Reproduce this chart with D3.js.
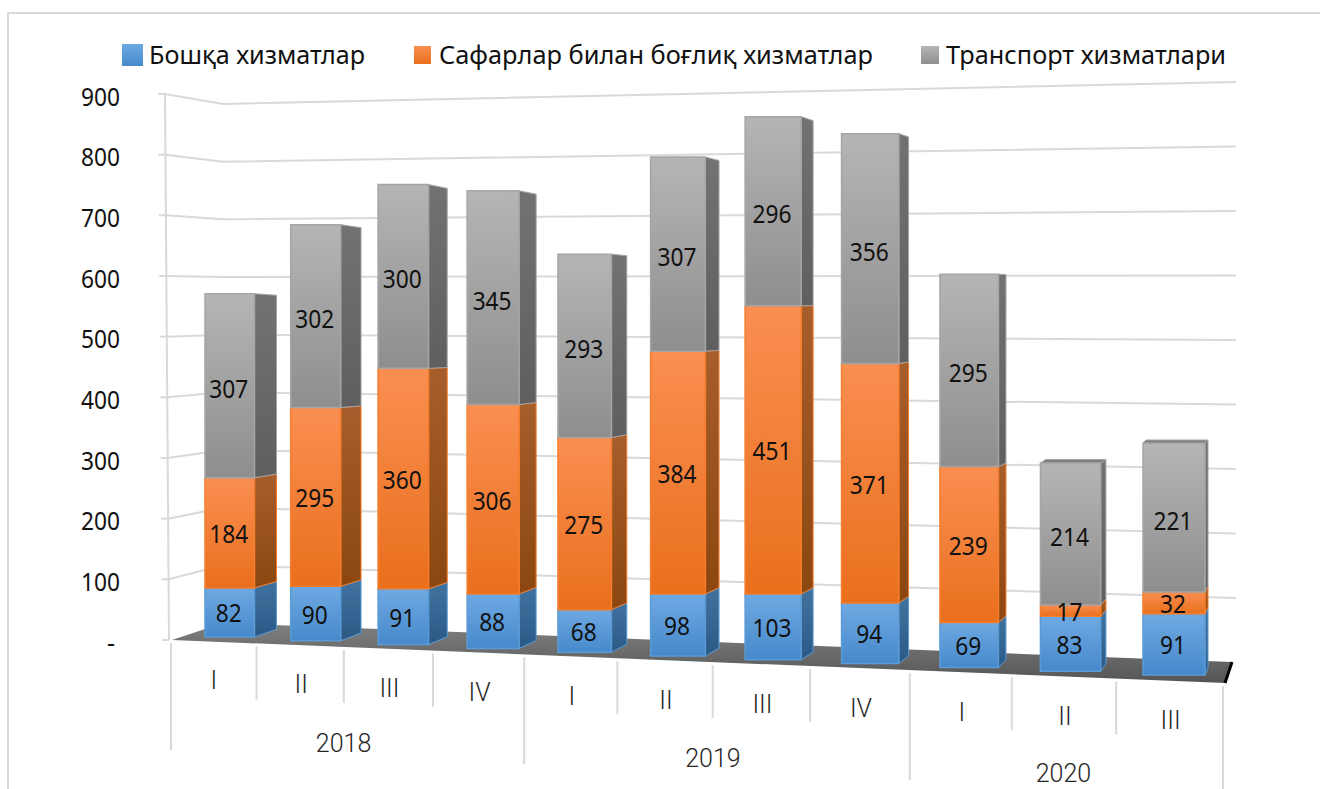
<!DOCTYPE html>
<html><head><meta charset="utf-8">
<script src="https://cdn.jsdelivr.net/npm/d3@7/dist/d3.min.js"></script>
<style>html,body{margin:0;padding:0;background:#fff;overflow:hidden}svg{display:block}text{font-family:"Noto Sans",sans-serif}</style>
</head><body><svg id="c" width="1320" height="789"></svg>
<script>
// ---- data ----
const quarters = ["I","II","III","IV","I","II","III","IV","I","II","III"];
const years = ["2018","2019","2020"];
const yearSpans = [4,4,3];
const other = [82,90,91,88,68,98,103,94,69,83,91];
const travel = [184,295,360,306,275,384,451,371,239,17,32];
const transport = [307,302,300,345,293,307,296,356,295,214,221];
const seriesNames = ["Бошқа хизматлар","Сафарлар билан боғлиқ хизматлар","Транспорт хизматлари"];
const valueTicks = [0,100,200,300,400,500,600,700,800,900];

// ---- palette ----
const faceTop = ["#6fa9e2","#fa8f52","#b5b5b5"], faceBot = ["#4689cb","#e96f1c","#8e8e8e"];
const sideTop = ["#42739f","#a65e2c","#727272"], sideBot = ["#2a5986","#8c4710","#5f5f5f"];
const edge = ["#5b9bd5","#f57d2c","#a5a5a5"];

const svg = d3.select("#c");
const defs = svg.append("defs");
function grad(id,a,b){const g=defs.append("linearGradient").attr("id",id).attr("x1",0).attr("y1",0).attr("x2",0).attr("y2",1);
  g.append("stop").attr("offset",0).attr("stop-color",a);g.append("stop").attr("offset",1).attr("stop-color",b);}
faceTop.forEach((c,i)=>{grad("f"+i,c,faceBot[i]);grad("s"+i,sideTop[i],sideBot[i]);});
grad("floor","#808080","#555555");

// ---- perspective ----
const n = quarters.length;
const persp = k => c => c/(1-k*c);
const pBar = persp(0.0095), pTick = persp(0.0105);
const xBar = d3.scaleLinear().domain([0,pBar(10)]).range([205,1143]);
const xTick = d3.scaleLinear().domain([0,pTick(11)]).range([171,1223]);
const barW = d3.scaleLinear().domain([0,2,4,6,8,10]).range([49.5,50.5,53.5,56,58.5,62]);
const barD = d3.scaleLinear().domain([0,6,10]).range([22,12,3]);
const floorY = d3.scaleLinear().domain([0,10]).range([637,675]);
const unit = d3.scaleLinear().domain([0,2,6,8,10]).range([0.599,0.6125,0.639,0.652,0.674]);
const eyeY = d3.scaleLinear().domain([0,10]).range([350,270]);
const depthT = d3.scaleLinear().domain([0,10]).range([0.027,0.018]);
const backY = (c,y) => y + depthT(c)*(eyeY(c)-y);

// squeezed numerals: the reference face is tall and narrow
const digitW = 13;
const numeral = (sel) => sel.attr("font-size",25).attr("lengthAdjust","spacingAndGlyphs")
  .each(function(){ if(this.textContent.length>1) d3.select(this).attr("textLength",this.textContent.length*digitW); });

// ---- frame ----
const frame = "#d9d9d9";
svg.append("path").attr("d",d3.line()([[8,789],[8,13],[1320,13]])).attr("fill","none").attr("stroke",frame).attr("stroke-width",2);

// ---- walls & gridlines ----
const yFront = d3.scaleLinear().domain([0,900]).range([640,94]);
const yCorner = d3.scaleLinear().domain([0,900]).range([623,104]);
const yRight = d3.scaleLinear().domain([0,900]).range([662.5,82]);
const wallX = d3.scaleLinear().domain([0,900]).range([169,165]);
const g = svg.append("g").attr("fill","none").attr("stroke",frame).attr("stroke-width",2);
valueTicks.forEach(v=>{
  if(v>0) g.append("path").attr("d",d3.line()([[wallX(v),yFront(v)],[223,yCorner(v)],[1236,yRight(v)]]));
  g.append("line").attr("x1",wallX(v)-7).attr("x2",wallX(v)).attr("y1",yFront(v)).attr("y2",yFront(v));
});
g.append("line").attr("x1",wallX(0)).attr("x2",wallX(900)).attr("y1",yFront(0)).attr("y2",yFront(900));

// value axis labels through d3.axisLeft
const yAxis = d3.axisLeft(yFront).tickValues(valueTicks).tickSize(0).tickPadding(0)
  .tickFormat(v=>v===0?"-":String(v));
const ax = svg.append("g").attr("transform","translate(120,3)").call(yAxis);
ax.select(".domain").remove();
ax.selectAll("text").attr("fill","#111").style("font-family",'"Noto Sans",sans-serif')
  .attr("dx",v=>v===0?-5:0).call(numeral);

// ---- floor ----
svg.append("path").attr("d",d3.line()([[172,640],[223,623],[1232,662],[1225,683]])+"Z").attr("fill","url(#floor)");
svg.append("line").attr("x1",1232).attr("y1",662).attr("x2",1225).attr("y2",683).attr("stroke","#000").attr("stroke-width",3);

// ---- category axis ----
const axisY = x => 640 + (x-172)*0.0408;
const gc = svg.append("g").attr("stroke",frame).attr("stroke-width",2);
let run = 0; const groupEdges = new Set([0]);
yearSpans.forEach(s=>{run+=s;groupEdges.add(run);});
for(let i=0;i<=n;i++){
  const x = xTick(pTick(i)), y0 = axisY(x)+3;
  const long = groupEdges.has(i);
  gc.append("line").attr("x1",x).attr("x2",x).attr("y1",y0).attr("y2",y0+(long?107:53));
}
const axisFont = 'Roboto,sans-serif';
const qLabelY = d3.scaleLinear().domain([0,10]).range([680,720]);
svg.append("g").selectAll("text").data(quarters).join("text")
  .attr("x",(d,i)=>(xTick(pTick(i))+xTick(pTick(i+1)))/2 + (i===0?0:1))
  .attr("y",(d,i)=>qLabelY(i)+9).attr("text-anchor","middle").attr("font-size",25).attr("font-weight",300)
  .style("font-family",axisFont).attr("fill","#262626").text(d=>d);
run = 0;
const yearY = d3.scaleLinear().domain([0,2]).range([743,773]);
svg.append("g").selectAll("text").data(years).join("text")
  .attr("x",(d,i)=>{const a=xTick(pTick(run));run+=yearSpans[i];return (a+xTick(pTick(run)))/2-(i===2?3:4);})
  .attr("y",(d,i)=>yearY(i)+9).attr("text-anchor","middle").attr("font-size",25).attr("font-weight",300)
  .style("font-family",axisFont).attr("fill","#262626").text(d=>d);

// ---- bars ----
const stacked = d3.stack().keys([0,1,2]).value((d,k)=>d[k])(d3.range(n).map(i=>[other[i],travel[i],transport[i]]));
const bars = svg.append("g");
const labels = svg.append("g");
const poly = d3.line();
const labelNudge = [10,10.5,12];
d3.range(n).forEach(c=>{
  const x0 = xBar(pBar(c)), x1 = x0+barW(c), xb = x1+barD(c), yb = floorY(c), u = unit(c);
  const yScale = d3.scaleLinear().domain([0,1]).range([yb,yb-u]);
  stacked.forEach((layer,k)=>{
    const [v0,v1] = layer[c];
    const y0 = yScale(v0), y1 = yScale(v1);
    bars.append("path").attr("d",poly([[x1,y0],[x1,y1],[xb,backY(c,y1)],[xb,backY(c,y0)]])+"Z")
      .attr("fill",`url(#s${k})`).attr("stroke",edge[k]).attr("stroke-width",1);
    if(k===2 && backY(c,y1)<y1){
      bars.append("path").attr("d",poly([[x0,y1],[x1,y1],[xb,backY(c,y1)],[x0+barD(c),backY(c,y1)]])+"Z")
        .attr("fill","#7d7d7d").attr("stroke","#a5a5a5").attr("stroke-width",1);
    }
    bars.append("path").attr("d",poly([[x0,y0],[x1,y0],[x1,y1],[x0,y1]])+"Z")
      .attr("fill",`url(#f${k})`).attr("stroke",edge[k]).attr("stroke-width",1.5);
    labels.append("text").attr("x",(x0+x1)/2-1).attr("y",(y0+y1)/2+labelNudge[k]).attr("text-anchor","middle")
      .attr("fill","#111").text(v1-v0).call(numeral);
  });
});

// ---- legend ----
const legendSw = [[122,44,21,22],[414,46,17,18],[921,46,18,18]];
const legendTx = [[149,216],[439,434],[946,280]];
const lg = svg.append("g");
seriesNames.forEach((s,i)=>{
  const [x,y,w,h]=legendSw[i];
  lg.append("rect").attr("x",x).attr("y",y).attr("width",w).attr("height",h).attr("fill",`url(#f${i})`);
  lg.append("text").attr("x",legendTx[i][0]).attr("y",64).attr("font-size",26).attr("fill","#111")
    .attr("textLength",legendTx[i][1]).attr("lengthAdjust","spacingAndGlyphs").text(s);
});
</script></body></html>
